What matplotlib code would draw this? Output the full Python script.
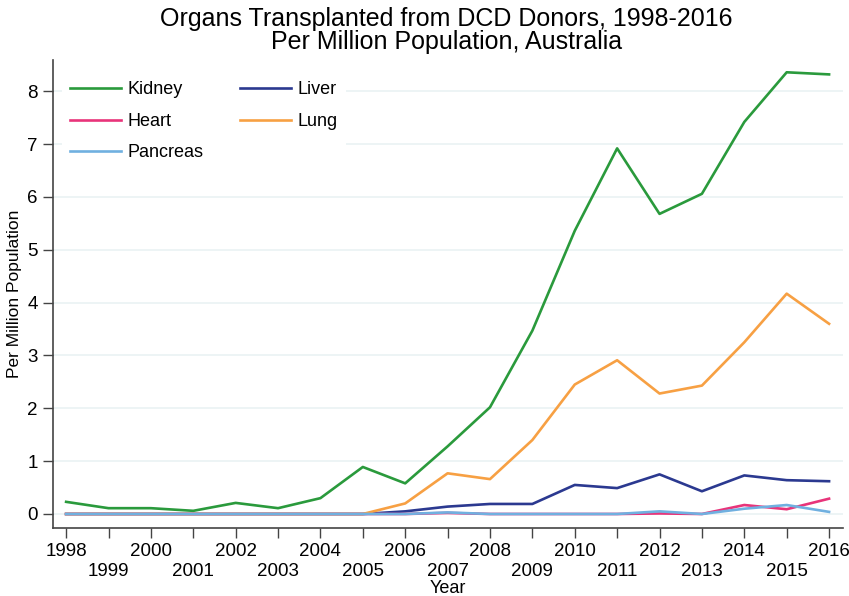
import matplotlib
matplotlib.use("Agg")
import matplotlib.pyplot as plt

years = list(range(1998, 2017))
kidney = [0.23, 0.11, 0.11, 0.06, 0.21, 0.11, 0.30, 0.89, 0.58, 1.28, 2.02,
          3.47, 5.36, 6.92, 5.68, 6.06, 7.42, 8.36, 8.32]
liver = [0, 0, 0, 0, 0, 0, 0, 0, 0.05, 0.14, 0.19, 0.19, 0.55, 0.49, 0.75,
         0.43, 0.73, 0.64, 0.62]
heart = [0, 0, 0, 0, 0, 0, 0, 0, 0, 0.02, 0, 0, 0, 0, 0.01, 0, 0.17, 0.09, 0.29]
lung = [0, 0, 0, 0, 0, 0, 0, 0, 0.20, 0.77, 0.66, 1.40, 2.45, 2.91, 2.28,
        2.43, 3.25, 4.17, 3.60]
pancreas = [0, 0, 0, 0, 0, 0, 0, 0, 0, 0.03, 0, 0, 0, 0, 0.05, 0, 0.10, 0.17, 0.04]

plt.rcParams['font.family'] = ['Liberation Sans', 'DejaVu Sans']

fig = plt.figure(figsize=(8.49, 5.96), dpi=100)
ax = fig.add_axes([0.0624, 0.1141, 0.9306, 0.785])

lw = 1.9
l_kid, = ax.plot(years, kidney, color='#2a9a3c', lw=lw, label='Kidney')
l_liv, = ax.plot(years, liver, color='#2b3990', lw=lw, label='Liver')
l_hea, = ax.plot(years, heart, color='#e8347a', lw=lw, label='Heart')
l_lun, = ax.plot(years, lung, color='#f7a043', lw=lw, label='Lung')
l_pan, = ax.plot(years, pancreas, color='#70b0e0', lw=lw, label='Pancreas')

ax.set_xlim(1997.69, 2016.33)
ax.set_ylim(-0.265, 8.59)
ax.set_yticks(range(0, 9))
ax.yaxis.grid(True, color='#eaf2f3', lw=1.2)
ax.set_axisbelow(True)

# even years on the first row, odd years staggered below
ax.set_xticks(years[::2])
ax.set_xticks(years[1::2], minor=True)
ax.set_xticklabels([str(y) for y in years[::2]])
ax.set_xticklabels([str(y) for y in years[1::2]], minor=True)
ax.tick_params(axis='x', which='major', length=7, width=1, color='#444444',
               labelsize=13.5, pad=4)
ax.tick_params(axis='x', which='minor', length=7, width=1, color='#444444',
               labelsize=13.5, pad=18)
ax.tick_params(axis='y', length=7, width=1, color='#444444', labelsize=13.5, pad=4)

for s in ['top', 'right']:
    ax.spines[s].set_visible(False)
for s in ['left', 'bottom']:
    ax.spines[s].set_color('#444444')
    ax.spines[s].set_linewidth(1.2)

ax.set_xlabel('Year', fontsize=13, va='top')
ax.xaxis.set_label_coords(0.5, -0.111)
ax.set_ylabel('Per Million Population', fontsize=12.5, labelpad=4)

leg = ax.legend([l_kid, l_hea, l_pan, l_liv, l_lun],
                ['Kidney', 'Heart', 'Pancreas', 'Liver', 'Lung'],
                ncol=2, loc='upper left', bbox_to_anchor=(0.0, 0.991),
                frameon=True, fancybox=False, fontsize=13,
                handlelength=2.8, handletextpad=0.4, columnspacing=2.0,
                labelspacing=0.8, borderpad=0.45)
leg.get_frame().set_edgecolor('none')
leg.get_frame().set_facecolor('white')
leg.get_frame().set_alpha(1)

fig.text(0.526, 0.988, 'Organs Transplanted from DCD Donors, 1998-2016\nPer Million Population, Australia',
         ha='center', va='top', fontsize=18, linespacing=0.95)

fig.savefig('out.png', dpi=100)
